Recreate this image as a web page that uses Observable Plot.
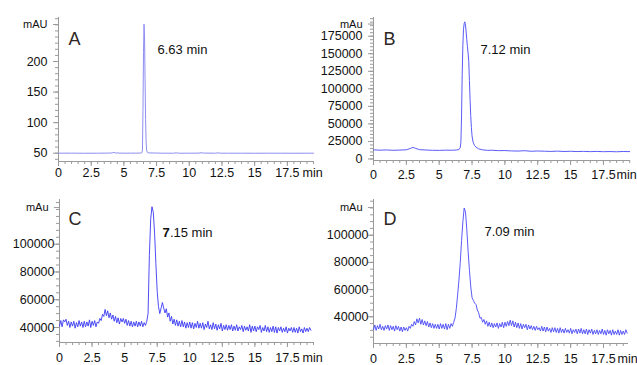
<!DOCTYPE html>
<html>
<head>
<meta charset="utf-8">
<script src="https://cdn.jsdelivr.net/npm/d3@7"></script>
<script src="https://cdn.jsdelivr.net/npm/@observablehq/plot@0.6"></script>
<style>
  html, body { margin: 0; padding: 0; background: #fff; }
  #wrap { position: relative; width: 637px; height: 365px; overflow: hidden; background: #fff; }
  .panel { position: absolute; }
  .panel svg { overflow: visible; display: block; }
</style>
</head>
<body>
<div id="wrap"></div>
<script>
// ---------- data ----------
const xTickLabels = [0, 2.5, 5, 7.5, 10, 12.5, 15, 17.5];
const panelLetters = ["A", "B", "C", "D"];
const peakLabels = ["6.63 min", "7.12 min", "7.15 min", "7.09 min"];
const unitLabels = ["mAU", "mAu", "mAu", "mAu"];
const xUnit = "min";

const yTicksA = [50, 100, 150, 200];
const yTicksB = [0, 25000, 50000, 75000, 100000, 125000, 150000, 175000];
const yTicksC = [40000, 60000, 80000, 100000];
const yTicksD = [40000, 60000, 80000, 100000];
const unitTicks = [260.5, 192300, 126400, 120400];

// Panel A (time, signal)
const timeA = [0, 1, 2, 3, 4, 4.15, 4.25, 4.35, 5, 5.5, 6, 6.3, 6.38, 6.42, 6.46, 6.5, 6.54, 6.58, 6.62, 6.66, 6.7, 6.74, 6.8, 6.9, 7.5, 8, 8.8, 9, 9.2, 10, 10.7, 10.9, 11.1, 12, 12.2, 12.4, 13, 14, 15, 16, 17, 18, 19, 19.5];
const signalA = [50, 50.1, 49.9, 50, 50.2, 50.8, 51.2, 50.4, 50, 50.1, 50.1, 50.3, 51, 55, 120, 215, 261, 240, 170, 105, 68, 55, 51, 50.5, 50.2, 50, 50, 50.6, 50, 50, 50.1, 50.7, 50.2, 50, 50.5, 50, 50, 50, 49.9, 50, 50, 49.9, 50, 50];

// Panel B
const timeB = [0, 0.5, 1, 1.5, 2, 2.5, 2.8, 3.0, 3.2, 3.5, 4, 4.5, 5, 5.5, 6, 6.3, 6.5, 6.6, 6.65, 6.7, 6.75, 6.8, 6.85, 6.9, 6.95, 7.0, 7.05, 7.1, 7.15, 7.2, 7.25, 7.3, 7.35, 7.4, 7.45, 7.5, 7.55, 7.6, 7.7, 7.8, 8.0, 8.3, 8.7, 9, 9.5, 10, 10.5, 11, 11.5, 12, 12.5, 13, 13.5, 14, 14.5, 15, 15.5, 16, 16.5, 17, 17.5, 18, 18.5, 19, 19.5];
const signalB = [13000, 12600, 12900, 12400, 12700, 13100, 15000, 16500, 15200, 13300, 12800, 12400, 12300, 12600, 12500, 12800, 13500, 16000, 24000, 60000, 120000, 162000, 185000, 193000, 195500, 191000, 181000, 170000, 160000, 151000, 139000, 112000, 85000, 62000, 45000, 33000, 27000, 23000, 19000, 17000, 14500, 13000, 12300, 12500, 11900, 12000, 11500, 11300, 11800, 11000, 11400, 11100, 10800, 11200, 10700, 11000, 10600, 10900, 10500, 10800, 10400, 10600, 10300, 10700, 10500];

// Panels C and D: one reading every 0.1 min from 0 min
const sampleStep = 0.1;
const signalC = [
  41000, 45000, 40500, 45500, 44000, 46000, 41500, 44500, 40000, 44000,
  41000, 44500, 39500, 43500, 40500, 45000, 41000, 44000, 40000, 44500,
  40500, 44000, 41000, 45500, 40000, 44500, 41500, 45000, 40500, 44000,
  43000, 46500, 45000, 49500, 48000, 53000, 48500, 52000, 47000, 50500,
  46000, 49000, 44500, 48000, 43500, 47000, 42500, 46500, 44000, 46500,
  43000, 46000, 41500, 45000, 41000, 44500, 40500, 44000, 41000, 44500,
  40500, 44000, 41000, 44500, 40500, 43500, 41500, 44500, 50000, 92000,
  118000, 127000, 123000, 108000, 86000, 66000, 55000, 50000, 54000, 58000,
  54000, 50500, 53500, 47500, 50500, 44500, 48000, 42500, 46000, 41500,
  45500, 41000, 44500, 40500, 45000, 40500, 44000, 39500, 43500, 40000,
  44000, 39500, 43500, 39000, 43000, 40000, 44500, 39500, 43000, 39500,
  43500, 38500, 42500, 40000, 44500, 39000, 42000, 38500, 43500, 39000,
  42500, 38000, 42000, 39000, 43000, 37500, 41500, 38500, 42000, 38000,
  41500, 38500, 42000, 37500, 41000, 38000, 42000, 37500, 40500, 38500,
  41500, 37000, 41000, 38000, 40500, 37500, 42000, 36500, 41000, 37500,
  41000, 37000, 40500, 38500, 41500, 36500, 40000, 37500, 41500, 37000,
  40500, 36500, 40000, 37000, 41000, 36500, 40500, 36000, 40000, 37500,
  40500, 36500, 39500, 37000, 40500, 36000, 39500, 37500, 40000, 36500,
  40000, 36500, 39500, 36000, 40500, 37000, 39000, 36000, 40000, 37000,
  39500, 37000, 40000, 38000
];
const signalD = [
  30500, 34000, 30000, 33500, 31000, 34500, 30500, 33000, 30000, 33500,
  31000, 34000, 30000, 33500, 30500, 33000, 29500, 33500, 30500, 33000,
  29500, 32500, 29000, 32500, 30000, 32000, 29500, 33000, 31500, 34500,
  33000, 36500, 34000, 38500, 35500, 39000, 34500, 38000, 34000, 37000,
  33500, 36500, 32500, 35500, 32000, 35000, 31500, 34500, 31500, 34500,
  31000, 35000, 31500, 34500, 31000, 35000, 30500, 34500, 31500, 35000,
  33000, 36000, 39000, 46000, 56000, 67000, 80000, 96000, 110000, 120000,
  117000, 104000, 88000, 74000, 62000, 54000, 52000, 50000, 49000, 45000,
  43000, 39000, 39500, 36000, 38000, 34500, 37000, 33000, 36000, 32500,
  35500, 32000, 35000, 32500, 35500, 31500, 35000, 32500, 36000, 32000,
  36000, 33000, 36500, 33500, 37500, 33500, 37000, 32500, 36000, 32000,
  35500, 31500, 35000, 31000, 34500, 32000, 34500, 30500, 34000, 31000,
  33500, 30500, 33000, 30000, 33000, 30500, 32000, 29500, 33000, 29500,
  32500, 29000, 32500, 29500, 31500, 28500, 32000, 29000, 32000, 28500,
  31500, 28000, 32000, 28500, 31000, 28000, 31500, 28500, 30500, 28000,
  31500, 27500, 30500, 28500, 31000, 27500, 31000, 28000, 31500, 27500,
  30500, 27500, 31000, 27000, 30500, 28000, 31000, 27000, 30000, 27500,
  30500, 27000, 30000, 27500, 31000, 27000, 30000, 26500, 30500, 27500,
  30000, 26500, 30500, 27000, 29500, 27000, 30500, 26500, 30000, 27000,
  29500, 27000, 30500, 28000
];
const timeC = signalC.map((_, i) => +(i * sampleStep).toFixed(1));
const timeD = signalD.map((_, i) => +(i * sampleStep).toFixed(1));

// ---------- drawing ----------
const FONT = "'Liberation Sans', Arial, Helvetica, sans-serif";
const AXIS = "#9a9a9a";
const INK = "#111";

function panel(o) {
  const data = o.times.map((t, i) => ({t, v: o.values[i]}));
  const xMinor = d3.range(0, o.xMax + 0.01, 0.5);
  const yMinor = d3.range(o.minorStart, o.yDomain[1], o.minorStep);
  const label = peakLabels[o.idx];
  const noteMarks = o.boldFirst
    ? [
        Plot.text([label.slice(0, 1)], {text: d => d, frameAnchor: "top-left", dx: o.noteDx, dy: o.noteDy, textAnchor: "start", fontSize: 13, fontWeight: "bold", fill: INK}),
        Plot.text([label.slice(1)], {text: d => d, frameAnchor: "top-left", dx: o.noteDx + 7.4, dy: o.noteDy, textAnchor: "start", fontSize: 13, fill: INK})
      ]
    : [Plot.text([label], {text: d => d, frameAnchor: "top-left", dx: o.noteDx, dy: o.noteDy, textAnchor: "start", fontSize: 13, fill: INK})];
  const chart = Plot.plot({
    width: o.w, height: 182,
    marginLeft: o.ml, marginRight: o.mr, marginTop: 17, marginBottom: o.mb,
    style: {background: "transparent", overflow: "visible", fontFamily: FONT, fontSize: "12.5px", color: INK},
    x: {domain: [0, o.xMax], axis: null},
    y: {domain: o.yDomain, axis: null},
    marks: [
      Plot.axisX(xMinor, {tickSize: 3, tickFormat: () => "", stroke: AXIS, label: null}),
      Plot.axisX(xTickLabels, {tickSize: 5, tickPadding: o.xPad, tickFormat: d => String(d), stroke: AXIS, fill: INK, fontSize: 12.5, label: null}),
      Plot.axisY(yMinor, {tickSize: 3, tickFormat: () => "", stroke: AXIS, label: null}),
      Plot.axisY([...o.yTicks, unitTicks[o.idx]], {tickSize: 5, tickPadding: o.yPad, tickFormat: d => d === unitTicks[o.idx] ? "" : String(d), stroke: AXIS, fill: INK, fontSize: 12.5, label: null}),
      Plot.ruleX([0], {stroke: AXIS}),
      Plot.ruleY([o.yDomain[0]], {stroke: AXIS}),
      Plot.line(data, {x: "t", y: "v", stroke: o.color, strokeWidth: o.sw}),
      Plot.text([unitLabels[o.idx]], {text: d => d, x: () => 0, y: () => unitTicks[o.idx], dx: -o.unitGap, textAnchor: "end", fontSize: 11, fill: INK}),
      Plot.text([xUnit], {text: d => d, x: () => o.xMax, frameAnchor: "bottom", dx: o.minDx, dy: 5 + o.xPad, lineAnchor: "top", textAnchor: "start", fontSize: 12.5, fill: INK}),
      Plot.text([panelLetters[o.idx]], {text: d => d, frameAnchor: "top-left", dx: o.letterDx, dy: o.letterDy, textAnchor: "start", fontSize: 18, fill: "#2e2624"}),
      ...noteMarks
    ]
  });
  const div = document.createElement("div");
  div.className = "panel";
  div.style.left = o.left + "px";
  div.style.top = o.top + "px";
  div.appendChild(chart);
  document.getElementById("wrap").appendChild(div);
}

panel({idx: 0, left: 0, top: 0, w: 318, ml: 58, mr: 5, mb: 21, xMax: 19.5,
  yDomain: [36.4, 272], yTicks: yTicksA, minorStart: 40, minorStep: 10,
  times: timeA, values: signalA, color: "#8e8ef2", sw: 1,
  xPad: 2, yPad: 6, unitGap: 11, minDx: -11,
  letterDx: 10, letterDy: 15, noteDx: 99, noteDy: 27});

panel({idx: 1, left: 318, top: 0, w: 318, ml: 55, mr: 6, mb: 22, xMax: 19.56,
  yDomain: [-2140, 201650], yTicks: yTicksB, minorStart: 0, minorStep: 5000,
  times: timeB, values: signalB, color: "#5b5bf8", sw: 1,
  xPad: 5, yPad: 6, unitGap: 11, minDx: -14,
  letterDx: 10, letterDy: 15, noteDx: 107, noteDy: 27.5});

panel({idx: 2, left: 0, top: 182, w: 318, ml: 59, mr: 5, mb: 22, xMax: 19.5,
  yDomain: [29200, 132200], yTicks: yTicksC, minorStart: 30000, minorStep: 5000,
  times: timeC, values: signalC, color: "#3a3af4", sw: 0.9,
  xPad: 6, yPad: 0, unitGap: 11, minDx: -11,
  letterDx: 9, letterDy: 13, noteDx: 103, noteDy: 28.3, boldFirst: true});

panel({idx: 3, left: 318, top: 182, w: 319, ml: 55, mr: 9, mb: 21, xMax: 19.4,
  yDomain: [20370, 126250], yTicks: yTicksD, minorStart: 25000, minorStep: 5000,
  times: timeD, values: signalD, color: "#4848f6", sw: 0.9,
  xPad: 6, yPad: 0, unitGap: 11, minDx: -11,
  letterDx: 10, letterDy: 13, noteDx: 111, noteDy: 27.2});
</script>
</body>
</html>
